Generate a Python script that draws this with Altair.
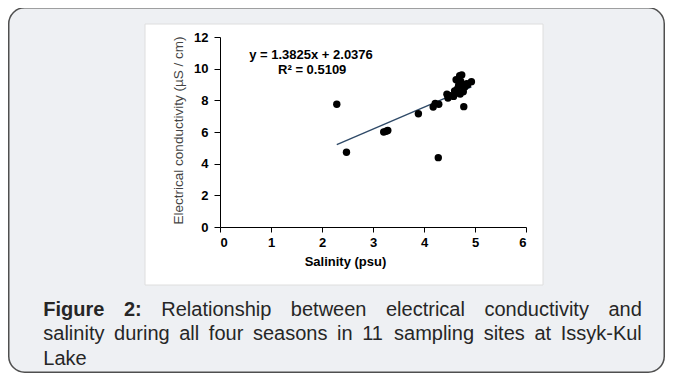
import altair as alt
import pandas as pd

# ---------------- data ----------------
salinity = [2.29, 2.48, 3.21, 3.26, 3.29, 3.89, 4.18, 4.22, 4.29, 4.28,
            4.45, 4.47, 4.52, 4.58, 4.62, 4.65, 4.63, 4.70, 4.74, 4.72,
            4.75, 4.77, 4.78, 4.80, 4.84, 4.93, 4.68, 4.60, 4.71, 4.86]
conductivity = [7.75, 4.72, 6.00, 6.05, 6.10, 7.15, 7.58, 7.80, 7.75, 4.38,
                8.38, 8.15, 8.30, 8.25, 8.45, 8.70, 9.30, 9.55, 9.60, 9.20,
                8.90, 8.55, 7.60, 8.85, 9.05, 9.18, 8.95, 8.60, 8.40, 9.00]
trend_slope = 1.3825
trend_intercept = 2.0376
trend_x = [2.29, 4.93]
x_ticks = [0, 1, 2, 3, 4, 5, 6]
y_ticks = [0, 2, 4, 6, 8, 10, 12]
equation_lines = ["y = 1.3825x + 2.0376", "R² = 0.5109"]
x_title = "Salinity (psu)"
y_title = "Electrical conductivity (µS / cm)"
caption_lines = [
    ["Figure", "2:", "Relationship", "between", "electrical", "conductivity", "and"],
    ["salinity", "during", "all", "four", "seasons", "in", "11", "sampling", "sites", "at", "Issyk-Kul"],
    ["Lake"],
]
caption_bold = {"Figure", "2:"}

# ---------------- layout ----------------
W, H = 306, 190
PAD_L, PAD_T = 212, 29
TOTAL_W, TOTAL_H = 657, 365
OX, OY = 8 + PAD_L, 8 + PAD_T  # page position of plot origin


def vx(px):
    return px - OX


def vy(py):
    return py - OY


FONT = "Liberation Sans"

REG = {c: 556 for c in "abdeghnopqu0123456789"}
REG.update({"c": 500, "f": 278, "i": 222, "j": 222, "k": 500, "l": 222, "m": 833,
            "r": 333, "s": 500, "t": 278, "v": 500, "w": 722, "x": 500, "y": 500,
            "z": 500, "F": 611, "I": 278, "K": 667, "L": 556, "R": 722,
            ":": 278, "-": 333, " ": 278})
BOLD = {"F": 611, "i": 278, "g": 611, "u": 611, "r": 389, "e": 556, "2": 556, ":": 333}


def tw(word, bold, size):
    table = BOLD if bold else REG
    return sum(table.get(c, 556) for c in word) * size / 1000.0


one = pd.DataFrame({"k": [0]})
layers = []

# outer rounded panel
layers.append(alt.Chart(one).mark_rect(
    fill="#eef0f3", stroke="#4f4f4f", strokeWidth=1.5, cornerRadius=16
).encode(x=alt.value(vx(8.75)), x2=alt.value(vx(664.25)),
         y=alt.value(vy(7.75)), y2=alt.value(vy(372.25))))

# white figure box
layers.append(alt.Chart(one).mark_rect(
    fill="white", stroke="#dedede", strokeWidth=1
).encode(x=alt.value(vx(145)), x2=alt.value(vx(543)),
         y=alt.value(vy(24)), y2=alt.value(vy(285))))

points = pd.DataFrame({"salinity": salinity, "conductivity": conductivity})
trend = pd.DataFrame({"salinity": trend_x,
                      "conductivity": [trend_slope * v + trend_intercept for v in trend_x]})

xs = alt.Scale(domain=[0, 6], nice=False, zero=True)
ys = alt.Scale(domain=[0, 12], nice=False, zero=True)

x_axis = alt.Axis(values=x_ticks, title=x_title, grid=False, zindex=1,
                  domainColor="black", domainWidth=1, tickColor="black", tickSize=5,
                  labelFont=FONT, labelFontSize=13, labelFontWeight="bold",
                  labelColor="black", labelPadding=4, format="d",
                  titleFont=FONT, titleFontSize=13, titleFontWeight="bold",
                  titleColor="black", titleX=vx(345), titleY=34.5,
                  titleAlign="center", titleBaseline="middle")
y_axis = alt.Axis(values=y_ticks, title=y_title, grid=False, zindex=1,
                  domainColor="black", domainWidth=1, tickColor="black", tickSize=6,
                  labelFont=FONT, labelFontSize=13, labelFontWeight="bold",
                  labelColor="black", labelPadding=6, format="d",
                  titleFont=FONT, titleFontSize=13.5, titleFontWeight="normal",
                  titleColor="#444444", titleX=vx(178.5), titleY=vy(130),
                  titleAngle=-90, titleAlign="center", titleBaseline="middle")

trend_layer = alt.Chart(trend).mark_line(color="#2f4a68", strokeWidth=1.4).encode(
    x=alt.X("salinity:Q", scale=xs, axis=x_axis),
    y=alt.Y("conductivity:Q", scale=ys, axis=y_axis),
)
point_layer = alt.Chart(points).mark_circle(size=55, color="black", opacity=1).encode(
    x=alt.X("salinity:Q", scale=xs, axis=x_axis),
    y=alt.Y("conductivity:Q", scale=ys, axis=y_axis),
)
layers += [trend_layer, point_layer]

# regression equation
eq_pos = [(311.0, 54.5), (312.2, 70.0)]
for line, (px, py) in zip(equation_lines, eq_pos):
    layers.append(alt.Chart(one).mark_text(
        font=FONT, fontSize=13, fontWeight="bold", color="black",
        align="center", baseline="middle"
    ).encode(x=alt.value(vx(px)), y=alt.value(vy(py)), text=alt.value(line)))

# caption, justified word by word
CAP_SIZE = 20
left, right = 43.3, 641.8
baselines = [315.5, 340.0, 364.5]
for i, words in enumerate(caption_lines):
    widths = [tw(w, w in caption_bold, CAP_SIZE) for w in words]
    if i < len(caption_lines) - 1 and len(words) > 1:
        gap = (right - left - sum(widths)) / (len(words) - 1)
    else:
        gap = REG[" "] * CAP_SIZE / 1000.0
    pos = left
    for w, wd in zip(words, widths):
        layers.append(alt.Chart(one).mark_text(
            font=FONT, fontSize=CAP_SIZE,
            fontWeight="bold" if w in caption_bold else "normal",
            color="#262626", align="left", baseline="alphabetic"
        ).encode(x=alt.value(vx(pos)), y=alt.value(vy(baselines[i])), text=alt.value(w)))
        pos += wd + gap

chart = alt.layer(*layers).properties(
    width=W, height=H,
    padding={"left": PAD_L, "top": PAD_T,
             "right": TOTAL_W - PAD_L - W, "bottom": TOTAL_H - PAD_T - H},
    autosize=alt.AutoSizeParams(type="none"),
    background="white",
).configure_view(strokeWidth=0)

chart.save("out.html", embed_options={"renderer": "svg", "actions": False})
